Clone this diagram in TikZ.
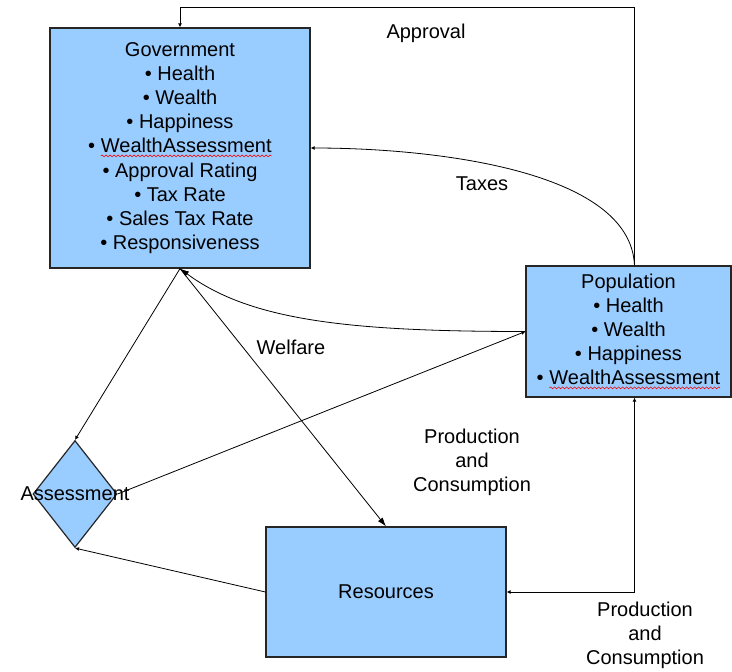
\documentclass[tikz,border=0pt]{standalone}
\usepackage{fontspec}
\setmainfont{Liberation Sans}
\usetikzlibrary{shapes.geometric,arrows.meta,decorations.pathmorphing}

\definecolor{boxblue}{RGB}{153,204,255}
\tikzset{
  block/.style={draw=black!85,line width=1.2pt,fill=boxblue,inner sep=0pt,align=center},
  flow/.style={draw,line width=0.8pt,-{Latex[length=4pt,width=4pt]}},
  bigflow/.style={flow,-{Latex[length=9pt,width=6pt]}},
  plainword/.style={shape=rectangle,draw=none,fill=none,minimum width=0pt,minimum height=0pt,
    inner sep=0pt,outer sep=0pt},
}
\newcommand\wavy[1]{\tikz[baseline=(w.base)]{\node[plainword] (w) {#1};
  \draw[draw=red,fill=none,line width=0.6pt,decorate,decoration={snake,amplitude=0.9pt,segment length=4pt}]
    ([yshift=-3pt]w.base west) -- ([yshift=-3pt]w.base east);}}

\begin{document}
\begin{tikzpicture}[x=1pt,y=-1pt,font=\fontsize{20}{24.1}\selectfont]
\useasboundingbox (0,0) rectangle (732,672);

\node[block,minimum width=260pt,minimum height=240pt] (gov) at (180,148)
  {Government\\• Health\\• Wealth\\• Happiness\\• \wavy{WealthAssessment}\\• Approval Rating\\• Tax Rate\\• Sales Tax Rate\\• Responsiveness};
\node[block,minimum width=205pt,minimum height=131pt] (pop) at (628.5,331.5)
  {Population\\• Health\\• Wealth\\• Happiness\\• \wavy{WealthAssessment}};
\node[block,minimum width=240pt,minimum height=130pt] (res) at (386,592) {Resources};
\node[block,diamond,minimum width=84pt,minimum height=107pt,label=center:Assessment] (assess) at (75,494) {};

\coordinate (ptop) at ([xshift=6pt]pop.north);
\coordinate (pbot) at ([xshift=6pt]pop.south);

\draw[flow] (ptop) -- (ptop |- 0,7) -| (gov.north);
\draw[flow] (ptop) .. controls +(-4,-96) and +(120,0) .. (gov.east);
\draw[flow] (gov.south) -- (assess.north);
\draw[bigflow] (pop.west) .. controls +(-176,0) and +(70,52) .. (gov.south);
\draw[bigflow] (gov.south) -- (res.north);
\draw[flow] (assess.east) -- (pop.west);
\draw[flow] (res.west) -- (assess.south);
\draw[flow,{Latex[length=4pt,width=4pt]}-{Latex[length=4pt,width=4pt]}] (res.east) -| (pbot);

\node (approval) at (426,33) {Approval};
\node (taxes) at (482,184) {Taxes};
\node (welfare) at (291,347) {Welfare};
\node[align=center] (prodmid) at (472,462.5) {Production\\and\\Consumption};
\node[align=center] (prodlow) at (645,635.5) {Production\\and\\Consumption};
\end{tikzpicture}
\end{document}
